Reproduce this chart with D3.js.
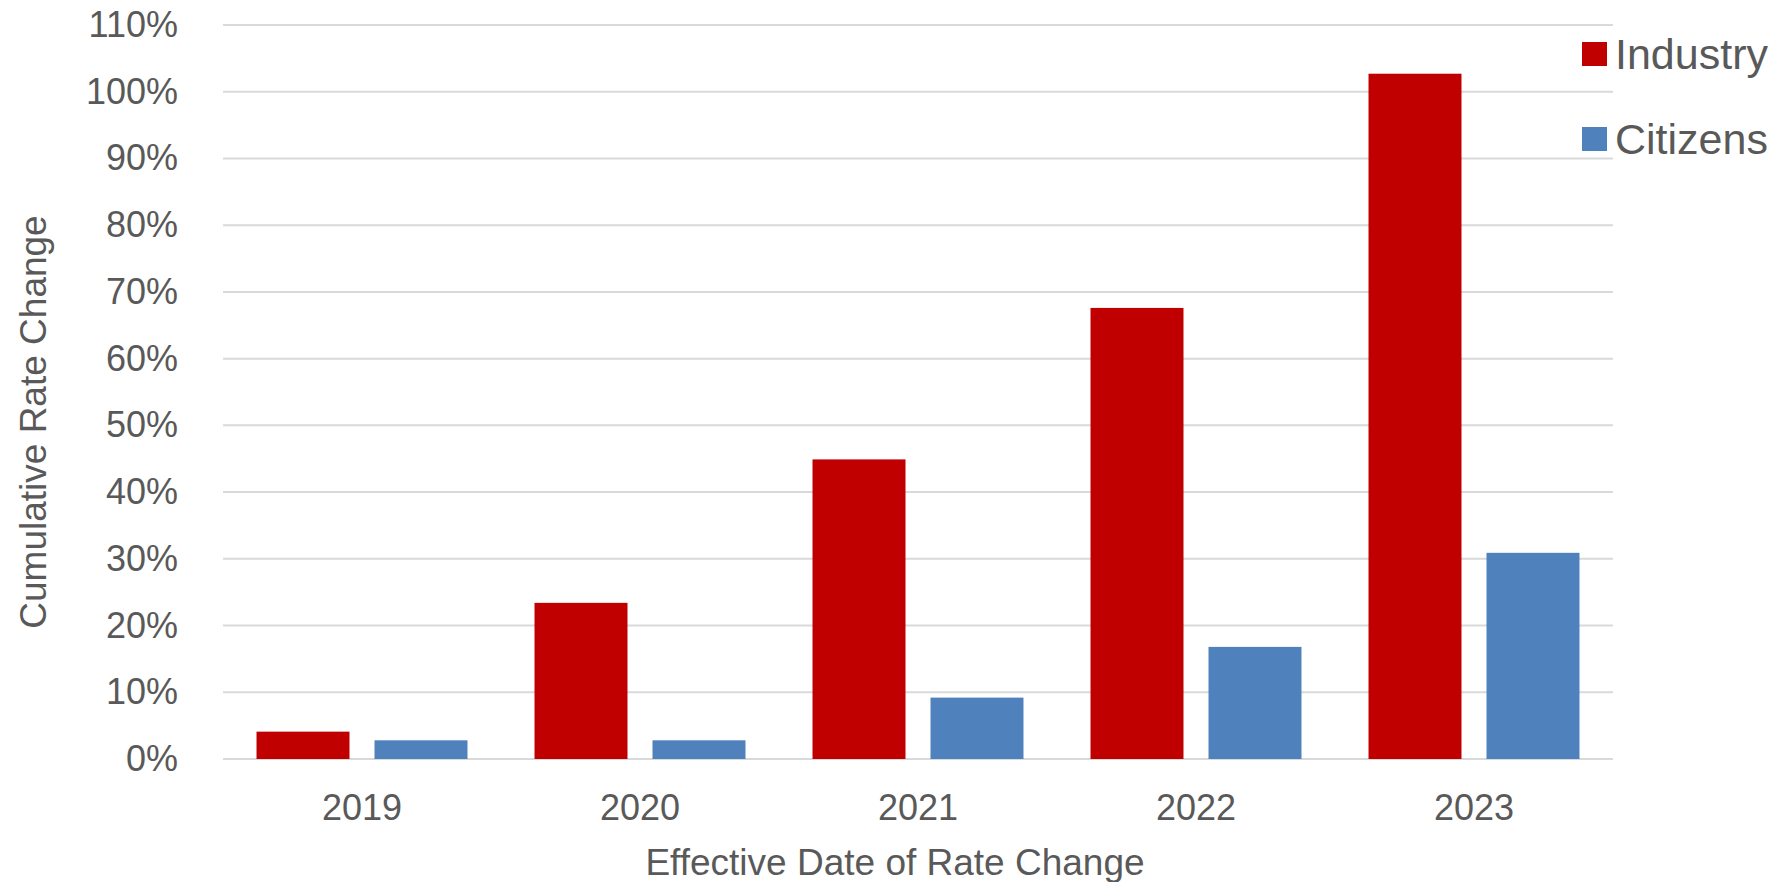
<!DOCTYPE html>
<meta charset="utf-8">
<title>cumulative-rate-change</title>
<style>
  body { margin: 0; background: #fff; }
  text { font-family: Arial, "Liberation Sans", sans-serif; fill: #595959; }
</style>
<body>
<script src="https://d3js.org/d3.v7.min.js"></script>
<script>
var width = 1784, height = 882;

// data
var years = ["2019", "2020", "2021", "2022", "2023"];
var series = ["Industry", "Citizens"];
var industry = [0.041, 0.234, 0.449, 0.676, 1.027];
var citizens = [0.028, 0.028, 0.092, 0.168, 0.309];
var yTicks = [0, 0.1, 0.2, 0.3, 0.4, 0.5, 0.6, 0.7, 0.8, 0.9, 1.0, 1.1];
var colors = ["#c00000", "#4f81bd"];

var svg = d3.select('body').append('svg')
    .attr('width', width)
    .attr('height', height);

var x = d3.scaleBand()
    .domain(years)
    .range([223, 1613]);

var xSub = d3.scaleBand()
    .domain(series)
    .range([0, x.bandwidth()])
    .paddingInner(0.212)
    .paddingOuter(0.284);

var y = d3.scaleLinear()
    .domain([0, 1.1])
    .range([759, 25]);

var color = d3.scaleOrdinal()
    .domain(series)
    .range(colors);

// gridlines
svg.append('g')
  .selectAll('line')
    .data(yTicks)
  .enter().append('line')
    .attr('x1', 223)
    .attr('x2', 1613)
    .attr('y1', function(d) { return y(d); })
    .attr('y2', function(d) { return y(d); })
    .style('stroke', '#d9d9d9')
    .style('stroke-width', 2);

// y axis labels
var yAxis = d3.axisLeft(y)
    .tickValues(yTicks)
    .tickFormat(d3.format(".0%"))
    .tickSize(0)
    .tickPadding(45);

var gy = svg.append('g')
    .attr('transform', 'translate(223,0)')
    .call(yAxis);
gy.select('.domain').remove();
gy.selectAll('text')
    .attr('font-size', 36)
    .attr('font-family', null)
    .attr('fill', null);

// bars
var rows = years.map(function(yr, i) {
  return { year: yr, values: [
    { key: "Industry", value: industry[i] },
    { key: "Citizens", value: citizens[i] }
  ]};
});

svg.append('g')
  .selectAll('g')
    .data(rows)
  .enter().append('g')
    .attr('transform', function(d) { return 'translate(' + x(d.year) + ',0)'; })
  .selectAll('rect')
    .data(function(d) { return d.values; })
  .enter().append('rect')
    .attr('x', function(d) { return xSub(d.key); })
    .attr('width', xSub.bandwidth())
    .attr('y', function(d) { return y(d.value); })
    .attr('height', function(d) { return y(0) - y(d.value); })
    .attr('fill', function(d) { return color(d.key); });

// x axis labels
var xAxis = d3.axisBottom(x)
    .tickSize(0)
    .tickPadding(35);

var gx = svg.append('g')
    .attr('transform', 'translate(0,' + y(0) + ')')
    .call(xAxis);
gx.select('.domain').remove();
gx.selectAll('text')
    .attr('font-size', 36)
    .attr('font-family', null)
    .attr('fill', null);

// axis titles
svg.append('text')
    .attr('x', 895)
    .attr('y', 875)
    .attr('text-anchor', 'middle')
    .attr('font-size', 37)
    .text('Effective Date of Rate Change');

svg.append('text')
    .attr('transform', 'translate(46,' + 422 + ') rotate(-90)')
    .attr('text-anchor', 'middle')
    .attr('font-size', 37)
    .text('Cumulative Rate Change');

// legend
var legend = svg.append('g')
    .attr('transform', 'translate(1582,0)')
  .selectAll('g')
    .data(series)
  .enter().append('g')
    .attr('transform', function(d, i) { return 'translate(0,' + (54 + i * 85) + ')'; });

legend.append('rect')
    .attr('x', 0)
    .attr('y', -12)
    .attr('width', 25)
    .attr('height', 24)
    .attr('fill', function(d) { return color(d); });

legend.append('text')
    .attr('x', 33)
    .attr('y', 0)
    .attr('dy', '0.36em')
    .attr('font-size', 43)
    .text(function(d) { return d; });
</script>
